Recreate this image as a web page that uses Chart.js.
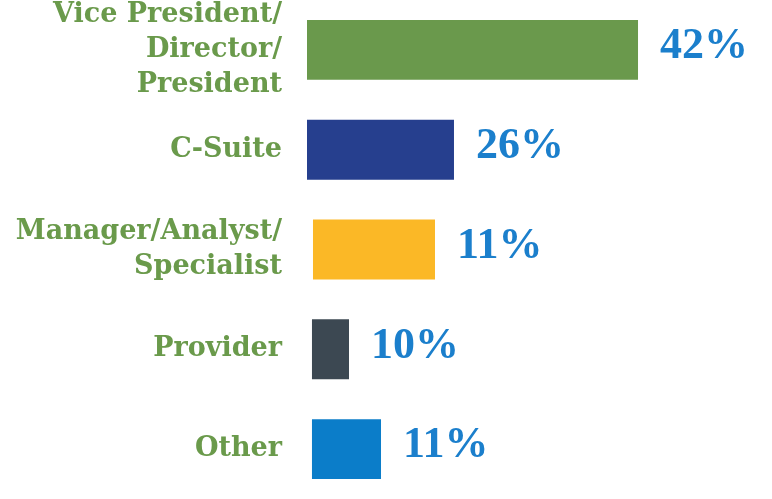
<!DOCTYPE html>
<html>
<head>
<meta charset="utf-8">
<script src="https://cdn.jsdelivr.net/npm/chart.js@4/dist/chart.umd.min.js"></script>
<style>
  html, body { margin: 0; padding: 0; background: #fff; }
</style>
</head>
<body>
<canvas id="roles" width="772" height="499"></canvas>
<script>
// role categories (multi-line tick labels)
const roles = [
    ["Vice President/", "Director/", "President"],
    "C-Suite",
    ["Manager/Analyst/", "Specialist"],
    "Provider",
    "Other"
];
// printed percentages next to each bar
const shares = [42, 26, 11, 10, 11];
// bar extents as drawn in the picture (axis units)
const barStart = [0, 0, 0.76, 0.63, 0.63];
const barEnd = [42, 18.65, 16.24, 5.33, 9.39];
const barColors = ["#6a994c", "#263f8e", "#fbb826", "#3c4852", "#0b7dc9"];

const valueLabels = {
    id: "valueLabels",
    afterDatasetsDraw(chart) {
        const ctx = chart.ctx;
        const meta = chart.getDatasetMeta(0);
        ctx.save();
        ctx.font = 'bold 44px "Liberation Serif"';
        ctx.fillStyle = "#1b7fcc";
        ctx.textAlign = "left";
        ctx.textBaseline = "middle";
        meta.data.forEach((bar, i) => {
            ctx.fillText(shares[i] + "%", bar.x + 22, bar.y - 3);
        });
        ctx.restore();
    }
};

const ctx = document.getElementById("roles").getContext("2d");
new Chart(ctx, {
    type: "bar",
    data: {
        labels: roles,
        datasets: [{
            data: barStart.map((s, i) => [s, barEnd[i]]),
            backgroundColor: barColors,
            borderWidth: 0,
            barPercentage: 0.6,
            categoryPercentage: 1.0,
            borderSkipped: false
        }]
    },
    options: {
        indexAxis: "y",
        responsive: false,
        animation: false,
        layout: { padding: 0 },
        plugins: {
            legend: { display: false },
            tooltip: { enabled: false }
        },
        scales: {
            x: {
                display: false,
                min: 0,
                max: 59
            },
            y: {
                grid: { display: false },
                border: { display: false },
                afterFit: (scale) => {
                    scale.width = 307;
                    scale.paddingTop = 0;
                    scale.paddingBottom = 0;
                },
                ticks: {
                    autoSkip: false,
                    color: "#6a9a4b",
                    padding: 17,
                    font: { family: '"DejaVu Serif"', size: 27, weight: "bold", lineHeight: 1.3 }
                }
            }
        }
    },
    plugins: [valueLabels]
});
</script>
</body>
</html>
